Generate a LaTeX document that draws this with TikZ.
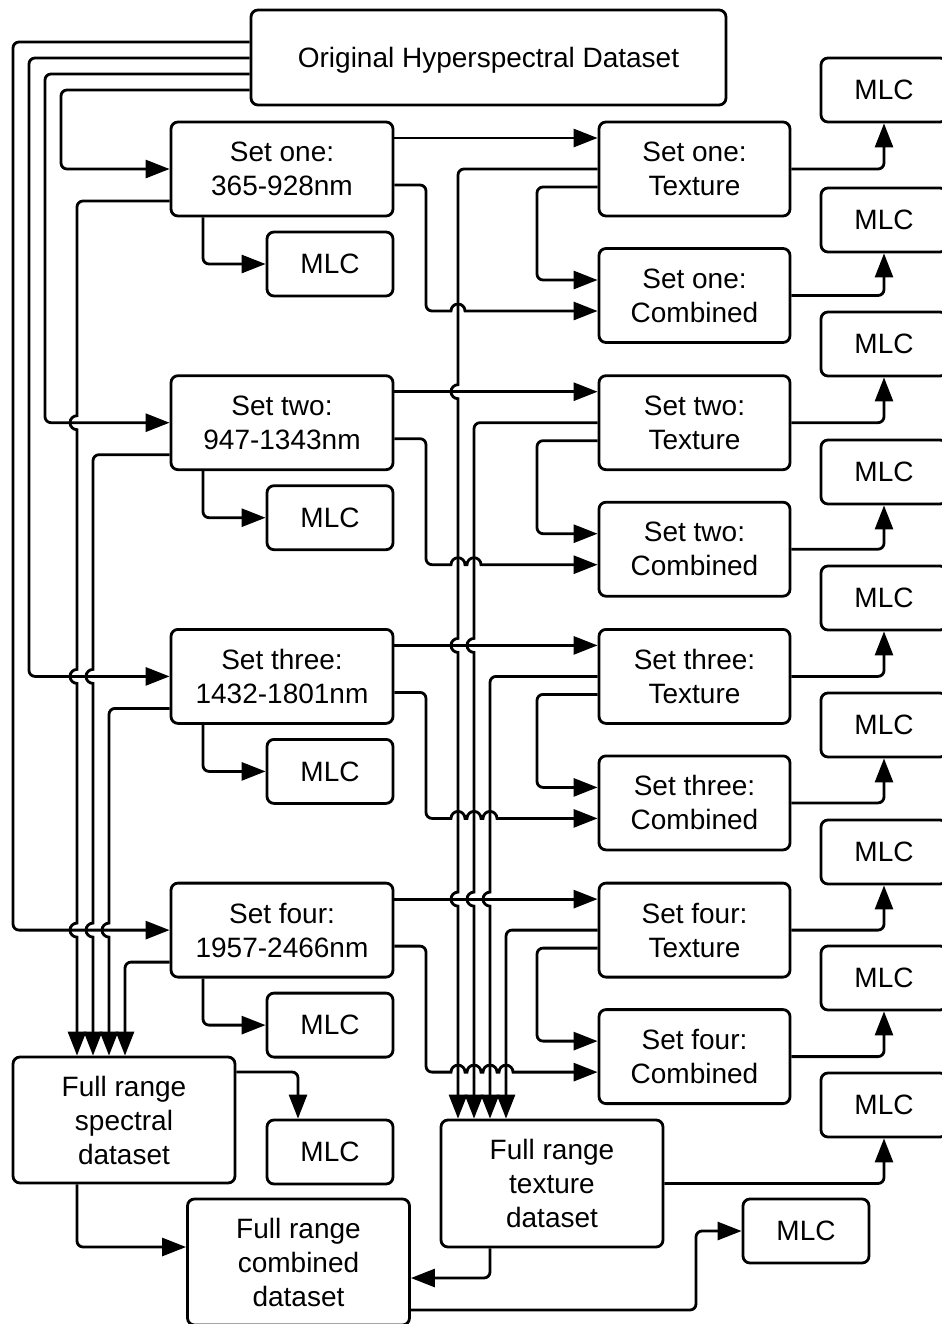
\documentclass[tikz,border=0pt]{standalone}
\usepackage{fontspec}
\setmainfont{Liberation Sans}
\usetikzlibrary{arrows.meta, positioning}

\begin{document}
\begin{tikzpicture}[x=0.5pt, y=-0.5pt,
block/.style={rectangle, rounded corners=3.5pt, draw=black, line width=1.4pt,
fill=white, align=center, inner sep=0pt, font=\fontsize{14}{17}\selectfont},
setbox/.style={block, minimum width=111pt, minimum height=47pt},
texbox/.style={block, minimum width=95.5pt, minimum height=47pt},
fullbox/.style={block, minimum width=111pt, minimum height=63pt},
mlc/.style={block, minimum width=63pt, minimum height=32pt},
arrow/.style={-{Triangle[length=12pt, width=9pt]}, line width=1.4pt, rounded corners=3pt},
hop/.style={arrow, sharp corners}]

\useasboundingbox (0,0) rectangle (942,1324);

\node[block, minimum width=237.5pt, minimum height=47.5pt, text depth=0pt] (orig) at (488.5,57.5)
    {Original Hyperspectral Dataset};

\node[setbox] (setone) at (282,169) {Set one:\\365-928nm};
\node[setbox, below=78.45pt of setone] (settwo) {Set two:\\947-1343nm};
\node[setbox, below=78.45pt of settwo] (setthree) {Set three:\\1432-1801nm};
\node[setbox, below=78.45pt of setthree] (setfour) {Set four:\\1957-2466nm};

\node[mlc] (mlcone) at (330,264) {MLC};
\node[mlc] (mlctwo) at (330,517.7) {MLC};
\node[mlc] (mlcthree) at (330,771.4) {MLC};
\node[mlc] (mlcfour) at (330,1025.1) {MLC};

\node[texbox, right=101.6pt of setone] (texone) {Set one:\\Texture};
\node[texbox, below=14.85pt of texone] (comone) {Set one:\\Combined};
\node[texbox, right=101.6pt of settwo] (textwo) {Set two:\\Texture};
\node[texbox, below=14.85pt of textwo] (comtwo) {Set two:\\Combined};
\node[texbox, right=101.6pt of setthree] (texthree) {Set three:\\Texture};
\node[texbox, below=14.85pt of texthree] (comthree) {Set three:\\Combined};
\node[texbox, right=101.6pt of setfour] (texfour) {Set four:\\Texture};
\node[texbox, below=14.85pt of texfour] (comfour) {Set four:\\Combined};

\node[mlc] (mlctone) at (884,90) {MLC};
\node[mlc] (mlccone) at (884,220) {MLC};
\node[mlc] (mlcttwo) at (884,344) {MLC};
\node[mlc] (mlcctwo) at (884,472) {MLC};
\node[mlc] (mlctthree) at (884,598) {MLC};
\node[mlc] (mlccthree) at (884,725) {MLC};
\node[mlc] (mlctfour) at (884,852) {MLC};
\node[mlc] (mlccfour) at (884,978) {MLC};

\node[fullbox] (spectral) at (124,1120) {Full range\\spectral\\dataset};
\node[mlc] (mlcspec) at (330,1152) {MLC};
\node[fullbox, minimum height=63.5pt] (fulltex) at (552,1183.5) {Full range\\texture\\dataset};
\node[mlc] (mlcftex) at (884,1105) {MLC};
\node[fullbox] (fullcom) at (298.5,1262) {Full range\\combined\\dataset};
\node[mlc] (mlcfcom) at (806,1231) {MLC};

\draw[arrow] ([yshift=-16.25pt]orig.west) -| (61,169) -- (setone.west);
\draw[arrow] ([yshift=-8.25pt]orig.west) -| (45,422.7) -- (settwo.west);
\draw[arrow] ([yshift=-0.25pt]orig.west) -| (29,676.4) -- (setthree.west);
\draw[arrow] ([yshift=7.75pt]orig.west) -| (13,930.1) -- (setfour.west);

\draw[hop] ([yshift=-16pt]setone.west) -- (83,201)
    arc[start angle=90, end angle=180, radius=3pt] -- (77,415.7)
    arc[start angle=90, end angle=270, radius=3.5pt] -- (77,669.4)
    arc[start angle=90, end angle=270, radius=3.5pt] -- (77,923.1)
    arc[start angle=90, end angle=270, radius=3.5pt] -- ([xshift=-23.5pt]spectral.north);
\draw[hop] ([yshift=-16pt]settwo.west) -- (99,454.7)
    arc[start angle=90, end angle=180, radius=3pt] -- (93,669.4)
    arc[start angle=90, end angle=270, radius=3.5pt] -- (93,923.1)
    arc[start angle=90, end angle=270, radius=3.5pt] -- ([xshift=-15.5pt]spectral.north);
\draw[hop] ([yshift=-16pt]setthree.west) -- (115,708.4)
    arc[start angle=90, end angle=180, radius=3pt] -- (109,923.1)
    arc[start angle=90, end angle=270, radius=3.5pt] -- ([xshift=-7.5pt]spectral.north);
\draw[arrow] ([yshift=-16pt]setfour.west) -| ([xshift=0.5pt]spectral.north);

\draw[arrow] ([xshift=-39.5pt]setone.south) |- (mlcone.west);
\draw[arrow] ([xshift=-39.5pt]settwo.south) |- (mlctwo.west);
\draw[arrow] ([xshift=-39.5pt]setthree.south) |- (mlcthree.west);
\draw[arrow] ([xshift=-39.5pt]setfour.south) |- (mlcfour.west);

\draw[arrow] ([yshift=15.5pt]setone.east) -- ([yshift=15.5pt]texone.west);
\draw[arrow] ([yshift=15.5pt]settwo.east) -- ([yshift=15.5pt]textwo.west);
\draw[arrow] ([yshift=15.5pt]setthree.east) -- ([yshift=15.5pt]texthree.west);
\draw[arrow] ([yshift=15.5pt]setfour.east) -- ([yshift=15.5pt]texfour.west);

\draw[hop] ([yshift=-8pt]setone.east) -- (420,185)
    arc[start angle=90, end angle=0, radius=3pt] -- (426,305)
    arc[start angle=180, end angle=270, radius=3pt] -- (451,311)
    arc[start angle=180, end angle=0, radius=3.5pt] -- ([yshift=-7.75pt]comone.west);
\draw[hop] ([yshift=-8pt]settwo.east) -- (420,438.7)
    arc[start angle=90, end angle=0, radius=3pt] -- (426,558.7)
    arc[start angle=180, end angle=270, radius=3pt] -- (451,564.7)
    arc[start angle=180, end angle=0, radius=3.5pt] -- (467,564.7)
    arc[start angle=180, end angle=0, radius=3.5pt] -- ([yshift=-7.75pt]comtwo.west);
\draw[hop] ([yshift=-8pt]setthree.east) -- (420,692.4)
    arc[start angle=90, end angle=0, radius=3pt] -- (426,812.4)
    arc[start angle=180, end angle=270, radius=3pt] -- (451,818.4)
    arc[start angle=180, end angle=0, radius=3.5pt] -- (467,818.4)
    arc[start angle=180, end angle=0, radius=3.5pt] -- (483,818.4)
    arc[start angle=180, end angle=0, radius=3.5pt] -- ([yshift=-7.75pt]comthree.west);
\draw[hop] ([yshift=-8pt]setfour.east) -- (420,946.1)
    arc[start angle=90, end angle=0, radius=3pt] -- (426,1066.1)
    arc[start angle=180, end angle=270, radius=3pt] -- (451,1072.1)
    arc[start angle=180, end angle=0, radius=3.5pt] -- (467,1072.1)
    arc[start angle=180, end angle=0, radius=3.5pt] -- (483,1072.1)
    arc[start angle=180, end angle=0, radius=3.5pt] -- (499,1072.1)
    arc[start angle=180, end angle=0, radius=3.5pt] -- ([yshift=-7.75pt]comfour.west);

\draw[arrow] ([yshift=-9pt]texone.west) -| (537,280) -- ([yshift=7.75pt]comone.west);
\draw[arrow] ([yshift=-9pt]textwo.west) -| (537,533.7) -- ([yshift=7.75pt]comtwo.west);
\draw[arrow] ([yshift=-9pt]texthree.west) -| (537,787.4) -- ([yshift=7.75pt]comthree.west);
\draw[arrow] ([yshift=-9pt]texfour.west) -| (537,1041.1) -- ([yshift=7.75pt]comfour.west);

\draw[hop] (texone.west) -- (464,169)
    arc[start angle=90, end angle=180, radius=3pt] -- (458,384.7)
    arc[start angle=90, end angle=270, radius=3.5pt] -- (458,638.4)
    arc[start angle=90, end angle=270, radius=3.5pt] -- (458,892.1)
    arc[start angle=90, end angle=270, radius=3.5pt] -- ([xshift=-47pt]fulltex.north);
\draw[hop] (textwo.west) -- (480,422.7)
    arc[start angle=90, end angle=180, radius=3pt] -- (474,638.4)
    arc[start angle=90, end angle=270, radius=3.5pt] -- (474,892.1)
    arc[start angle=90, end angle=270, radius=3.5pt] -- ([xshift=-39pt]fulltex.north);
\draw[hop] (texthree.west) -- (496,676.4)
    arc[start angle=90, end angle=180, radius=3pt] -- (490,892.1)
    arc[start angle=90, end angle=270, radius=3.5pt] -- ([xshift=-31pt]fulltex.north);
\draw[arrow] (texfour.west) -| ([xshift=-23pt]fulltex.north);

\draw[arrow] (texone.east) -| (mlctone.south);
\draw[arrow] (comone.east) -| (mlccone.south);
\draw[arrow] (textwo.east) -| (mlcttwo.south);
\draw[arrow] (comtwo.east) -| (mlcctwo.south);
\draw[arrow] (texthree.east) -| (mlctthree.south);
\draw[arrow] (comthree.east) -| (mlccthree.south);
\draw[arrow] (texfour.east) -| (mlctfour.south);
\draw[arrow] (comfour.east) -| (mlccfour.south);

\draw[arrow] ([yshift=24pt]spectral.east) -| ([xshift=-16pt]mlcspec.north);
\draw[arrow] ([xshift=-23.5pt]spectral.south) |- ([yshift=7.5pt]fullcom.west);
\draw[arrow] ([xshift=-31pt]fulltex.south) |- ([yshift=-8pt]fullcom.east);
\draw[arrow] (fulltex.east) -| (mlcftex.south);
\draw[arrow] ([yshift=-24pt]fullcom.east) -| (696,1231) -- (mlcfcom.west);
\end{tikzpicture}
\end{document}
